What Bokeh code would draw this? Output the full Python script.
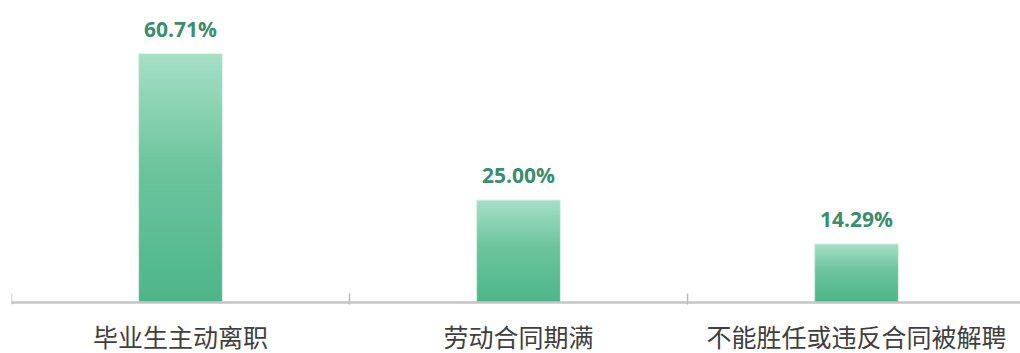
import numpy as np
from bokeh.plotting import figure
from bokeh.models import Range1d, FixedTicker, ColumnDataSource
from bokeh.core.properties import value
from bokeh.embed import file_html
from bokeh.resources import INLINE

# ---- data ----
categories = ["毕业生主动离职", "劳动合同期满", "不能胜任或违反合同被解聘"]
values = [60.71, 25.00, 14.29]
value_labels = ["60.71%", "25.00%", "14.29%"]

n = len(categories)
xs = [i + 0.5 for i in range(n)]
BAR_W = 0.248

p = figure(width=1020, height=353, output_backend="svg", toolbar_location=None,
           x_range=Range1d(0, 2.985), y_range=Range1d(-12.45, 73.65),
           y_axis_location=None,
           min_border_left=11, min_border_right=0, min_border_top=0,
           min_border_bottom=0)
p.outline_line_color = None
p.xgrid.grid_line_color = None
p.ygrid.grid_line_color = None
p.background_fill_color = "white"
p.border_fill_color = "white"

# ---- gradient bars (stacked layers, tallest first) ----
stops_t = [0.0, 0.55, 1.0]
stops_c = np.array([[77, 181, 138], [108, 196, 156], [165, 223, 198]], dtype=float)
steps = 60
gx, gtop, gcol = [], [], []
for k in range(steps, 0, -1):
    frac = k / steps
    rgb = [np.interp(frac, stops_t, stops_c[:, j]) for j in range(3)]
    col = "#%02x%02x%02x" % tuple(int(round(c)) for c in rgb)
    for xi, v in zip(xs, values):
        gx.append(xi)
        gtop.append(v * frac)
        gcol.append(col)
src = ColumnDataSource(dict(x=gx, top=gtop, color=gcol))
p.vbar(x="x", top="top", bottom=0, width=BAR_W, fill_color="color",
       line_color=None, source=src)
p.vbar(x=xs, top=values, bottom=0, width=BAR_W, fill_color=None,
       line_color="#e2f4eb", line_width=1)

# ---- value labels ----
p.text(x=xs, y=values, text=value_labels, text_align="center",
       text_baseline="middle", y_offset=-25,
       text_font=value("Open Sans"), text_font_style="bold",
       text_font_size="21px", text_color="#3b8d6b")

# ---- x axis (fixed at y = 0) ----
ax = p.xaxis[0]
ax.fixed_location = 0
ax.ticker = FixedTicker(ticks=xs, minor_ticks=list(range(n + 1)))
ax.major_label_overrides = {x: c for x, c in zip(xs, categories)}
ax.major_tick_line_color = None
ax.major_tick_in = 0
ax.major_tick_out = 0
ax.minor_tick_line_color = "#bdbdbd"
ax.minor_tick_line_width = 1.5
ax.minor_tick_in = 9
ax.minor_tick_out = 2
ax.axis_line_color = "#c4c4c4"
ax.axis_line_width = 2.5
ax.major_label_text_font = "Noto Sans CJK SC"
ax.major_label_text_font_size = "25px"
ax.major_label_text_color = "#3f3f3f"
ax.major_label_standoff = 14

open("out.html", "w").write(file_html(p, INLINE))
